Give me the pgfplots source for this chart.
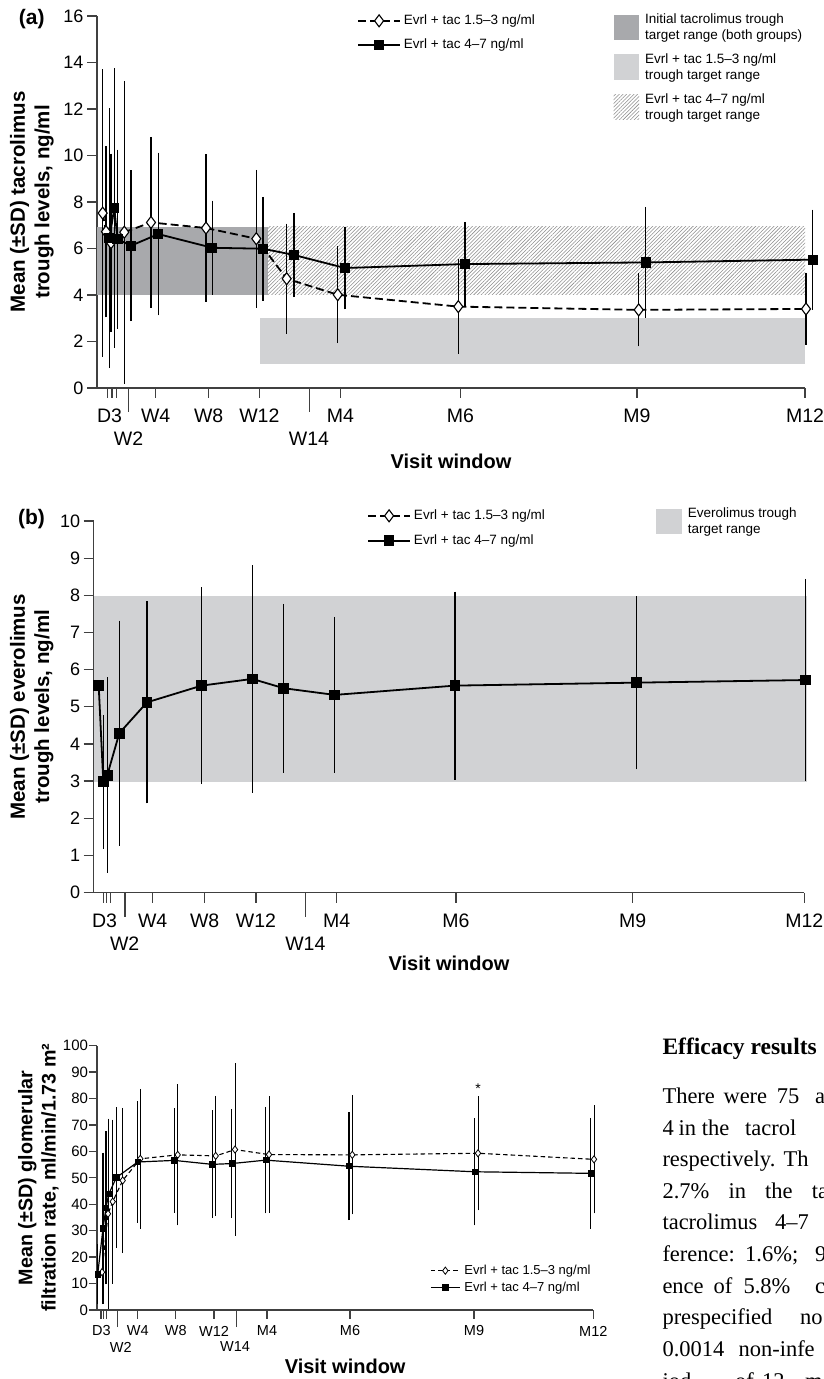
\documentclass[border=0pt]{standalone}
\usepackage{fontspec}
\setmainfont{Liberation Sans}
\newfontfamily\serifbody{Liberation Serif}
\usepackage{pgfplots}
\pgfplotsset{compat=1.18}
\usetikzlibrary{patterns.meta}
\definecolor{darkband}{HTML}{A8A9AC}
\definecolor{lightband}{HTML}{D1D2D4}
\definecolor{axgray}{HTML}{404040}
\definecolor{hatchgray}{HTML}{8C8C8C}
\newcommand{\fs}[2]{\fontsize{#1}{#2}\selectfont}

\pgfplotsset{
  panel/.style={
    scale only axis, clip=false,
    axis x line*=bottom, axis y line*=left,
    axis line style={axgray, line width=1.3pt},
    tick style={axgray, line width=1.3pt},
    tick align=outside,
    xticklabels={}, extra x tick labels={},
    /pgf/number format/assume math mode=true,
    legend cell align=left,
  },
  dashser/.style={black, line width=1.8pt, dash pattern=on 8pt off 4pt, mark=diamond*, mark size=6pt,
    mark options={solid, fill=white, draw=black, line width=1.1pt}},
  solidser/.style={black, line width=1.8pt, mark=square*, mark size=4.2pt, mark options={solid, fill=black}},
}

\begin{document}
\begin{tikzpicture}[x=1pt,y=1pt]
\path[use as bounding box] (0,0) rectangle (823,1379);

% ================= panel (a)
\begin{axis}[panel, at={(97pt,991pt)}, anchor=south west, width=708pt, height=372pt,
  xmin=0,xmax=708,ymin=0,ymax=16,
  ytick={0,2,...,16}, yticklabel style={font=\fs{18}{18}},
  major tick length=10pt,
  xtick={10.7,15,19.3,58.7,111.7,162.3,243.3,363.3,540,708},
  extra x ticks={31.7,212.3}, extra x tick style={major tick length=24pt},
  xlabel={Visit window}, ylabel={Mean (±SD) tacrolimus\\trough levels, ng/ml},
  every axis x label/.style={at={(axis description cs:0.5,-0.196)}, anchor=center, font=\bfseries\fs{20}{20}},
  every axis y label/.style={at={(axis description cs:-0.092,0.5)}, rotate=90, anchor=center, align=center, font=\bfseries\fs{20.5}{24.3}},
  legend style={at={(axis description cs:0.3672,1.0054)}, anchor=north west, draw=none, fill=none, inner sep=0pt, font=\fs{13.5}{16}, row sep=10.5pt, nodes={inner sep=1pt}, /tikz/every odd column/.append style={column sep=2pt}},
  legend image code/.code={\draw[#1, mark repeat=2, mark phase=2] plot coordinates {(0pt,0pt)(21pt,0pt)(42pt,0pt)};},
]
\addplot[fill=darkband, draw=none, forget plot] coordinates {(0,4)(170.7,4)(170.7,6.93)(0,6.93)} -- cycle;
\addplot[pattern={Lines[angle=45,distance=2.6pt,line width=0.55pt]}, pattern color=hatchgray, draw=none, forget plot] coordinates {(170.7,4)(708,4)(708,6.93)(170.7,6.93)} -- cycle;
\addplot[fill=lightband, draw=none, forget plot] coordinates {(163,1.05)(708,1.05)(708,3.02)(163,3.02)} -- cycle;

\addplot[dashser, error bars/.cd, y dir=both, y explicit, error bar style={solid, line width=1.5pt, black}, error mark options={solid, line width=1.5pt, mark size=3pt, black}]
coordinates {
(5.7,7.52) +- (0,6.05)
(9,6.72) +- (0,3.55)
(14,6.25) +- (0,3.7)
(27.3,6.70) +- (0,6.38)
(54,7.12) +- (0,3.55)
(109,6.88) +- (0,3.05)
(159.3,6.42) +- (0,2.83)
(189.7,4.70) +- (0,2.24)
(240.7,4.01) +- (0,1.95)
(361.3,3.50) +- (0,1.90)
(541.7,3.36) +- (0,1.44)
(709,3.40) +- (0,1.42)
};
\addlegendentry{Evrl + tac 1.5–3 ng/ml}
\addplot[solidser, error bars/.cd, y dir=both, y explicit, error bar style={solid, line width=1.5pt, black}, error mark options={solid, line width=1.5pt, mark size=3pt, black}]
coordinates {
(12.5,6.44) +- (0,5.46)
(17.3,7.74) +- (0,5.89)
(20.5,6.40) +- (0,3.72)
(34,6.12) +- (0,3.11)
(61.3,6.62) +- (0,3.37)
(115.3,6.03) +- (0,1.90)
(166,5.99) +- (0,2.10)
(197,5.72) +- (0,1.68)
(248,5.16) +- (0,1.65)
(368,5.33) +- (0,1.69)
(548.7,5.40) +- (0,2.26)
(715.7,5.52) +- (0,2.02)
};
\addlegendentry{Evrl + tac 4–7 ng/ml}

\node[font=\fs{19.5}{19.5}, yshift=-28pt] at (axis cs:12.5,0) {D3};
\node[font=\fs{19.5}{19.5}, yshift=-28pt] at (axis cs:58.7,0) {W4};
\node[font=\fs{19.5}{19.5}, yshift=-28pt] at (axis cs:111.7,0) {W8};
\node[font=\fs{19.5}{19.5}, yshift=-28pt] at (axis cs:162.3,0) {W12};
\node[font=\fs{19.5}{19.5}, yshift=-28pt] at (axis cs:243.3,0) {M4};
\node[font=\fs{19.5}{19.5}, yshift=-28pt] at (axis cs:363.3,0) {M6};
\node[font=\fs{19.5}{19.5}, yshift=-28pt] at (axis cs:540,0) {M9};
\node[font=\fs{19.5}{19.5}, yshift=-28pt] at (axis cs:708,0) {M12};
\node[font=\fs{19.5}{19.5}, yshift=-51pt] at (axis cs:31.5,0) {W2};
\node[font=\fs{19.5}{19.5}, yshift=-51pt] at (axis cs:212,0) {W14};
\end{axis}

\begin{axis}[at={(0pt,0pt)}, anchor=south west, hide axis, scale only axis, width=10pt, height=10pt, xmin=0,xmax=1,ymin=0,ymax=1,
  legend style={at={(613.3pt,1366.5pt)}, anchor=north west, draw=none, fill=none, inner sep=0pt, font=\fs{13.5}{16}, row sep=10.5pt, nodes={inner sep=1pt}, /tikz/every odd column/.append style={column sep=5pt}},
  legend cell align=left,
  legend image code/.code={\path[#1] (0pt,-12.8pt) rectangle (25.7pt,12.8pt);}]
\addlegendimage{fill=darkband, draw=none}
\addlegendentry[align=left]{Initial tacrolimus trough\\target range (both groups)}
\addlegendimage{fill=lightband, draw=none}
\addlegendentry[align=left]{Evrl + tac 1.5–3 ng/ml\\trough target range}
\addlegendimage{pattern={Lines[angle=45,distance=2.6pt,line width=0.55pt]}, pattern color=hatchgray, draw=none}
\addlegendentry[align=left]{Evrl + tac 4–7 ng/ml\\trough target range}
\end{axis}

\node[font=\bfseries\fs{21}{21}] at (31.7,1360) {(a)};

% ================= panel (b)
\begin{axis}[panel, at={(93.7pt,486.4pt)}, anchor=south west, width=710.6pt, height=371.6pt,
  xmin=0,xmax=710.6,ymin=0,ymax=10,
  ytick={0,1,...,10}, yticklabel style={font=\fs{18}{18}},
  major tick length=10pt,
  xtick={9.7,12.9,16.5,59,111,162.3,243,362.3,539,710.6},
  extra x ticks={31.3,211.6}, extra x tick style={major tick length=24pt},
  xlabel={Visit window}, ylabel={Mean (±SD) everolimus\\trough levels, ng/ml},
  every axis x label/.style={at={(axis description cs:0.5,-0.19)}, anchor=center, font=\bfseries\fs{20}{20}},
  every axis y label/.style={at={(axis description cs:-0.0873,0.5)}, rotate=90, anchor=center, align=center, font=\bfseries\fs{20.5}{24.3}},
  legend style={at={(axis description cs:0.3846,1.0323)}, anchor=north west, draw=none, fill=none, inner sep=0pt, font=\fs{13.5}{16}, row sep=11.5pt, nodes={inner sep=1pt}, /tikz/every odd column/.append style={column sep=2pt}},
  legend image code/.code={\draw[#1, mark repeat=2, mark phase=2] plot coordinates {(0pt,0pt)(21pt,0pt)(42pt,0pt)};},
]
\addplot[fill=lightband, draw=none, forget plot] coordinates {(0,2.97)(713.6,2.97)(713.6,7.99)(0,7.99)} -- cycle;
\addlegendimage{dashser}
\addlegendentry{Evrl + tac 1.5–3 ng/ml}
\addplot[solidser, mark size=4.5pt, error bars/.cd, y dir=both, y explicit, error bar style={solid, line width=1.4pt, black}, error mark options={solid, line width=1.4pt, mark size=3pt, black}]
coordinates {
(5,5.57) +- (0,0)
(9.6,2.98) +- (0,1.72)
(13.6,3.16) +- (0,2.55)
(25.6,4.29) +- (0,2.95)
(53.3,5.12) +- (0,2.64)
(108,5.57) +- (0,2.57)
(158.6,5.75) +- (0,2.98)
(190,5.50) +- (0,2.19)
(241,5.32) +- (0,2.02)
(361.3,5.57) +- (0,2.45)
(543,5.65) +- (0,2.25)
(712,5.72) +- (0,2.64)
};
\addlegendentry{Evrl + tac 4–7 ng/ml}

\node[font=\fs{19.5}{19.5}, yshift=-28pt] at (axis cs:10.8,0) {D3};
\node[font=\fs{19.5}{19.5}, yshift=-28pt] at (axis cs:59,0) {W4};
\node[font=\fs{19.5}{19.5}, yshift=-28pt] at (axis cs:111,0) {W8};
\node[font=\fs{19.5}{19.5}, yshift=-28pt] at (axis cs:162.3,0) {W12};
\node[font=\fs{19.5}{19.5}, yshift=-28pt] at (axis cs:243,0) {M4};
\node[font=\fs{19.5}{19.5}, yshift=-28pt] at (axis cs:362.3,0) {M6};
\node[font=\fs{19.5}{19.5}, yshift=-28pt] at (axis cs:539,0) {M9};
\node[font=\fs{19.5}{19.5}, yshift=-28pt] at (axis cs:710.6,0) {M12};
\node[font=\fs{19.5}{19.5}, yshift=-51pt] at (axis cs:31,0) {W2};
\node[font=\fs{19.5}{19.5}, yshift=-51pt] at (axis cs:211.6,0) {W14};
\end{axis}

\begin{axis}[at={(0pt,0pt)}, anchor=south west, hide axis, scale only axis, width=10pt, height=10pt, xmin=0,xmax=1,ymin=0,ymax=1,
  legend style={at={(656pt,872.5pt)}, anchor=north west, draw=none, fill=none, inner sep=0pt, font=\fs{13.5}{16}, nodes={inner sep=1pt}, /tikz/every odd column/.append style={column sep=5pt}},
  legend cell align=left,
  legend image code/.code={\path[#1] (0pt,-12.8pt) rectangle (25.7pt,12.8pt);}]
\addlegendimage{fill=lightband, draw=none}
\addlegendentry[align=left]{Everolimus trough\\target range}
\end{axis}

\node[font=\bfseries\fs{21}{21}] at (31.5,859.5) {(b)};

% ================= panel (c)
\begin{axis}[panel, at={(97pt,69pt)}, anchor=south west, width=496.3pt, height=264.3pt,
  xmin=0,xmax=496.3,ymin=0,ymax=100,
  ytick={0,10,...,100}, yticklabel style={font=\fs{15}{15}, xshift=3pt},
  major tick length=8.5pt,
  xtick={4,6.7,9.3,40.7,78.7,117,170,253,377,496.3},
  extra x ticks={20.7,139.3}, extra x tick style={major tick length=17pt},
  xlabel={Visit window}, ylabel={Mean (±SD) glomerular\\filtration rate, ml/min/1.73 m²},
  every axis x label/.style={at={(axis description cs:0.5,-0.2145)}, anchor=center, font=\bfseries\fs{20}{20}},
  every axis y label/.style={at={(axis description cs:-0.1183,0.5)}, rotate=90, anchor=center, align=center, font=\bfseries\fs{19.7}{23.3}},
  legend style={at={(axis description cs:0.671,0.174)}, anchor=north west, draw=none, fill=none, inner sep=0pt, font=\fs{13}{15}, row sep=4pt, nodes={inner sep=1pt}, /tikz/every odd column/.append style={column sep=3pt}},
  legend image code/.code={\draw[#1, mark repeat=2, mark phase=2] plot coordinates {(0pt,0pt)(14.5pt,0pt)(29pt,0pt)};},
]
\addplot[black, line width=1.1pt, dash pattern=on 4.5pt off 3pt, mark=diamond*, mark size=3.6pt, mark options={solid, fill=white, draw=black, line width=0.8pt},
  error bars/.cd, y dir=both, y explicit, error bar style={solid, line width=0.9pt, black}, error mark options={solid, line width=0.9pt, mark size=2.6pt, black}]
coordinates {
(5,14.3) +- (0,10)
(11,36.4) +- (0,35)
(15.7,41.0) +- (0,30)
(25.7,49.0) +- (0,26.5)
(43.3,57.2) +- (0,25.5)
(80.7,58.7) +- (0,25.7)
(118.7,58.3) +- (0,21.7)
(138,60.7) +- (0,31.6)
(172,58.8) +- (0,21)
(255.3,58.7) +- (0,21.5)
(381,59.3) +- (0,20.6)
(497,57.0) +- (0,19.5)
};
\addlegendentry{Evrl + tac 1.5–3 ng/ml}
\addplot[black, line width=1.2pt, mark=square*, mark size=2.6pt, mark options={solid, fill=black},
  error bars/.cd, y dir=both, y explicit, error bar style={solid, line width=1.1pt, black}, error mark options={solid, line width=1.1pt, mark size=2.6pt, black}]
coordinates {
(0.7,13.5) +- (0,10.3)
(6,30.9) +- (0,27.7)
(9,38.7) +- (0,28)
(11.7,43.8) +- (0,27)
(19.3,50.1) +- (0,25.7)
(40.7,56.0) +- (0,22)
(77.3,56.6) +- (0,18.8)
(115.3,55.1) +- (0,19.4)
(134.7,55.4) +- (0,19.7)
(168.7,56.7) +- (0,19.2)
(252,54.4) +- (0,19.4)
(377.7,52.3) +- (0,19.3)
(493.7,51.7) +- (0,20)
};
\addlegendentry{Evrl + tac 4–7 ng/ml}

\node[font=\fs{14}{14}] at (axis cs:381,83.6) {*};
\node[font=\fs{14.5}{14.5}, yshift=-21pt] at (axis cs:4.3,0) {D3};
\node[font=\fs{14.5}{14.5}, yshift=-21pt] at (axis cs:40.7,0) {W4};
\node[font=\fs{14.5}{14.5}, yshift=-21pt] at (axis cs:78.7,0) {W8};
\node[font=\fs{14.5}{14.5}, yshift=-21pt] at (axis cs:117,0) {W12};
\node[font=\fs{14.5}{14.5}, yshift=-21pt] at (axis cs:170,0) {M4};
\node[font=\fs{14.5}{14.5}, yshift=-21pt] at (axis cs:253,0) {M6};
\node[font=\fs{14.5}{14.5}, yshift=-21pt] at (axis cs:377,0) {M9};
\node[font=\fs{14.5}{14.5}, yshift=-21pt] at (axis cs:496.3,0) {M12};
\node[font=\fs{14.5}{14.5}, yshift=-37pt] at (axis cs:23.8,0) {W2};
\node[font=\fs{14.5}{14.5}, yshift=-37pt] at (axis cs:138,0) {W14};
\end{axis}

% ================= body text
\begin{scope}
\clip (0,0) rectangle (823,1379);
\begin{scope}[every node/.style={anchor=base west, inner sep=0pt, font=\serifbody\fs{22.5}{22.5}}]
\node[font=\serifbody\bfseries\fs{23.5}{23.5}] at (662.3,324) {Efficacy results};
\node at (662.3,275.5) {There}; \node at (723.3,275.5) {were}; \node at (776.7,275.5) {75}; \node at (815,275.5) {a};
\node at (662.3,243.9) {4}; \node at (678.3,243.9) {in}; \node at (701.7,243.9) {the}; \node at (745,243.9) {tacrol};
\node at (662.3,212.3) {respectively.}; \node at (783.3,212.3) {Th};
\node at (662.3,180.7) {2.7\%}; \node at (728.3,180.7) {in}; \node at (765,180.7) {the}; \node at (811.7,180.7) {ta};
\node at (662.3,149.1) {tacrolimus}; \node at (775,149.1) {4–7};
\node at (662.3,117.5) {ference:}; \node at (745,117.5) {1.6\%;}; \node at (815,117.5) {9};
\node at (662.3,85.9) {ence}; \node at (713.3,85.9) {of}; \node at (743.3,85.9) {5.8\%}; \node at (815,85.9) {c};
\node at (662.3,54.3) {prespecified}; \node at (800,54.3) {no};
\node at (662.3,22.7) {0.0014}; \node at (738.3,22.7) {non-infe};
\node at (662.3,-9.5) {iod}; \node at (735,-9.5) {of}; \node at (762,-9.5) {12}; \node at (805,-9.5) {mont};
\end{scope}
\end{scope}
\end{tikzpicture}
\end{document}
